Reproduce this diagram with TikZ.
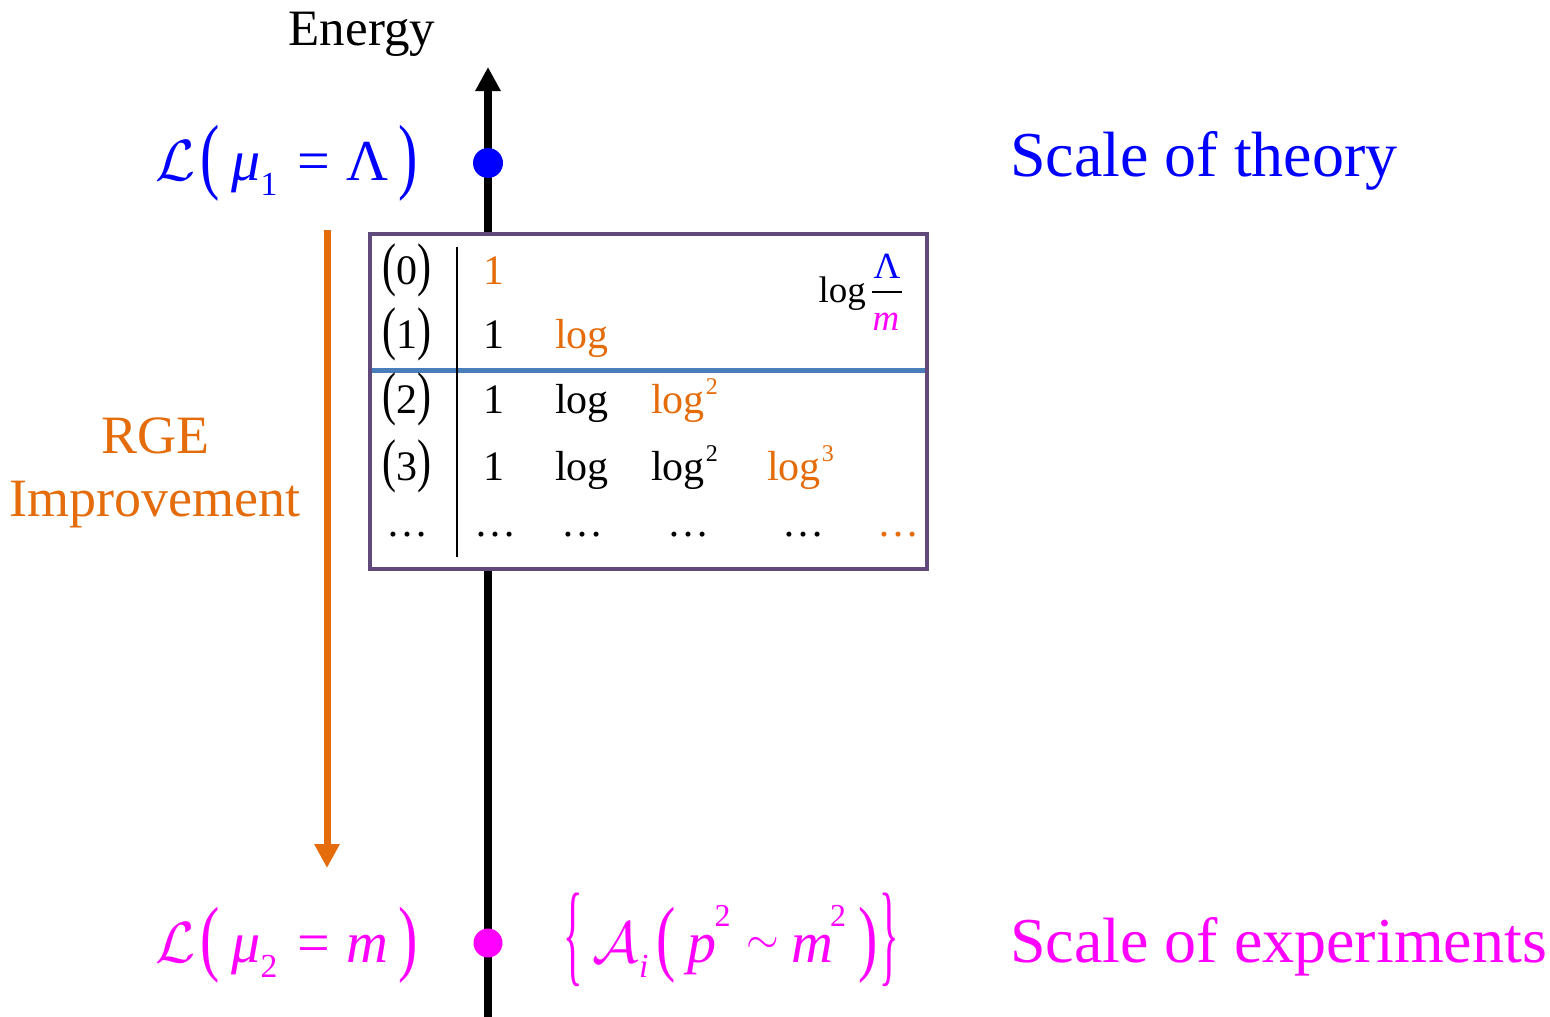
\documentclass[tikz,border=0pt]{standalone}
\usepackage{fontspec}
\setmainfont{Liberation Serif}
\usetikzlibrary{arrows.meta}
\definecolor{rgeor}{HTML}{E46C0A}
\definecolor{boxpur}{HTML}{604A7B}
\definecolor{linblu}{HTML}{4A7EBB}
\definecolor{thblue}{HTML}{0000FF}
\definecolor{exmag}{HTML}{FF00FF}
\newcommand{\PL}{\raisebox{-0.06em}{\scalebox{1}[1.45]{(}}}
\newcommand{\PR}{\raisebox{-0.06em}{\scalebox{1}[1.45]{)}}}
\newcommand{\BRL}{\raisebox{-0.17em}{\scalebox{0.7}[1.95]{\{}}}
\newcommand{\BRR}{\raisebox{-0.17em}{\scalebox{0.7}[1.95]{\}}}}
\newcommand{\subs}[1]{\raisebox{-0.27em}{\scalebox{0.58}{#1}}}
\newcommand{\sups}[1]{\raisebox{0.62em}{\scalebox{0.55}{#1}}}
\newcommand{\tp}[1]{\scalebox{1}[1.4]{(}#1\scalebox{1}[1.4]{)}}
\newcommand{\lgs}[1]{log\hspace{1pt}\raisebox{0.43em}{\fontsize{24}{24}\selectfont #1}}
\newcommand{\smallmath}[1]{\scalebox{5.8}{\fontsize{10}{12}\selectfont$#1$}}
\newcommand{\tildesym}{\raisebox{9pt}{\scalebox{4.2}[4.4]{\fontsize{10}{12}\selectfont$\sim$}}}
\begin{document}
\begin{tikzpicture}[x=1pt,y=-1pt,
  tbl/.style={font=\fontsize{42}{42}\selectfont, inner sep=0pt},
  big/.style={font=\fontsize{64}{64}\selectfont, inner sep=0pt},
  mth/.style={font=\fontsize{58}{58}\selectfont, inner sep=0pt},
  dotnode/.style={circle, inner sep=0pt, minimum size=30pt}]
\useasboundingbox (0,0) rectangle (1550,1017);

% axis
\coordinate (axbot) at (488,1017);
\coordinate (axtop) at (488,67);
\draw[line width=8pt, -{Triangle[width=24pt,length=24pt]}] (axbot) -- (axtop);
\node[font=\fontsize{51}{51}\selectfont, inner sep=0pt, anchor=base] (energy) at (362,45) {Energy};

% dots
\node[dotnode, fill=thblue] (dtop) at (488,163) {};
\node[dotnode, fill=exmag, minimum size=29pt] (dbot) at (488,943) {};

% table box
\node[draw=boxpur, line width=4pt, fill=white, minimum width=557pt, minimum height=335pt, inner sep=0pt] (tbox) at (648.5,401.5) {};
\coordinate (hl1) at (372,370);
\coordinate (hl2) at (925,370);
\draw[linblu, line width=5pt] (hl1) -- (hl2);
\coordinate (vs1) at (457,247);
\coordinate (vs2) at (457,557);
\draw[line width=1.8pt] (vs1) -- (vs2);

% row labels
\node[tbl, anchor=base] (l0) at (407,284) {\tp{0}};
\node[tbl, anchor=base] (l1) at (407,348) {\tp{1}};
\node[tbl, anchor=base] (l2) at (407,413) {\tp{2}};
\node[tbl, anchor=base] (l3) at (407,480) {\tp{3}};
\node[tbl, anchor=base] (l4) at (407,536) {…};

% row 0
\node[tbl, anchor=base, text=rgeor] (a0) at (494,284) {1};
% row 1
\node[tbl, anchor=base] (a1) at (494,348) {1};
\node[tbl, anchor=base west, text=rgeor] (b1) at (555,348) {log};
% row 2
\node[tbl, anchor=base] (a2) at (494,413) {1};
\node[tbl, anchor=base west] (b2) at (555,413) {log};
\node[tbl, anchor=base west, text=rgeor] (c2) at (651,413) {\lgs{2}};
% row 3
\node[tbl, anchor=base] (a3) at (494,480) {1};
\node[tbl, anchor=base west] (b3) at (555,480) {log};
\node[tbl, anchor=base west] (c3) at (651,480) {\lgs{2}};
\node[tbl, anchor=base west, text=rgeor] (d3) at (767,480) {\lgs{3}};
% dots row
\node[tbl, anchor=base] (a4) at (495,536) {…};
\node[tbl, anchor=base] (b4) at (582,536) {…};
\node[tbl, anchor=base] (c4) at (688,536) {…};
\node[tbl, anchor=base] (d4) at (803,536) {…};
\node[tbl, anchor=base, text=rgeor] (e4) at (898,536) {…};

% log Lambda/m
\node[font=\fontsize{37}{37}\selectfont, inner sep=0pt, anchor=base east] (lglab) at (866,302) {log};
\node[font=\fontsize{37}{37}\selectfont, inner sep=0pt, anchor=base, text=thblue] (fnum) at (887,278) {Λ};
\node[font=\fontsize{37}{37}\selectfont\itshape, inner sep=0pt, anchor=base, text=exmag] (fden) at (886,330) {m};
\coordinate (fb1) at (872,292);
\coordinate (fb2) at (902,292);
\draw[line width=1.8pt] (fb1) -- (fb2);

% RGE arrow
\coordinate (ra1) at (327,230);
\coordinate (ra2) at (327,868);
\draw[rgeor, line width=7pt, -{Triangle[width=24pt,length=24pt]}] (ra1) -- (ra2);
\node[font=\fontsize{54}{63}\selectfont, text=rgeor, inner sep=0pt, align=center, anchor=base] (rge) at (155,516) {RGE\\Improvement};

% math labels
\node[mth, text=thblue, anchor=base west] (ltop) at (155,180)
  {\smallmath{\mathcal{L}}\hspace{5pt}\PL\hspace{12pt}\textit{μ}\subs{1}\hspace{20pt}=\hspace{16pt}Λ\hspace{10pt}\PR};
\node[mth, text=exmag, anchor=base west] (lbot) at (155,962)
  {\smallmath{\mathcal{L}}\hspace{5pt}\PL\hspace{12pt}\textit{μ}\subs{2}\hspace{20pt}=\hspace{16pt}\textit{m}\hspace{10pt}\PR};
\node[mth, text=exmag, anchor=base west] (amp) at (563,962)
  {\BRL\hspace{10pt}\smallmath{\mathcal{A}}\subs{\textit{i}}\hspace{8pt}\PL\hspace{12pt}\textit{p}\hspace{-2pt}\sups{2}\hspace{16pt}\tildesym\hspace{12pt}\textit{m}\hspace{-3pt}\sups{2}\hspace{12pt}\PR\hspace{2pt}\BRR};

% scale labels
\node[big, text=thblue, anchor=base west] (sth) at (1010,176) {Scale of theory};
\node[big, text=exmag, anchor=base west] (sex) at (1010,962) {Scale of experiments};
\end{tikzpicture}
\end{document}
